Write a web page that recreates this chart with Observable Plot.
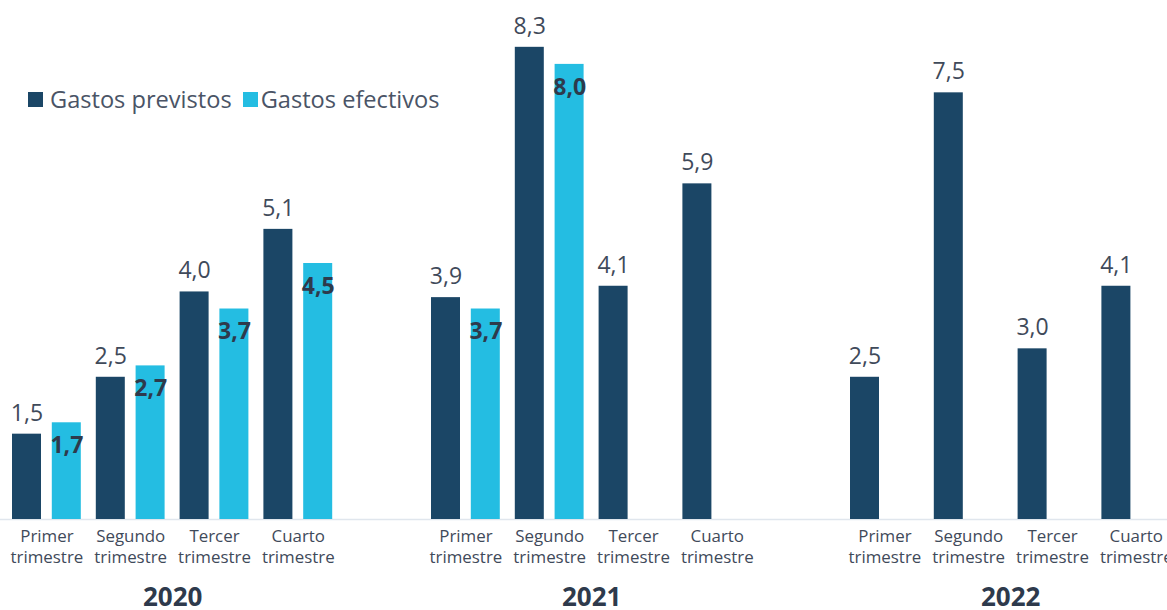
<!DOCTYPE html>
<html>
<head>
<meta charset="utf-8">
<script src="https://cdn.jsdelivr.net/npm/d3@7"></script>
<script src="https://cdn.jsdelivr.net/npm/@observablehq/plot@0.6"></script>
<style>
  html, body { margin: 0; padding: 0; background: #fff; }
  #wrap { position: relative; width: 1167px; height: 610px; overflow: hidden; font-family: "Open Sans", sans-serif; }
  #legend { position: absolute; left: 28px; top: 83px; display: flex; align-items: center; font-size: 23.6px; color: #4a5466; white-space: nowrap; }
  #legend .sw { display: inline-block; width: 15px; height: 15px; }
  #legend .item { display: flex; align-items: center; margin-right: 11px; }
</style>
</head>
<body>
<div id="wrap">
  <div id="chart"></div>
  <div id="legend"></div>
</div>
<script>
const years = ["2020", "2021", "2022"];
const quarters = ["Primer\ntrimestre", "Segundo\ntrimestre", "Tercer\ntrimestre", "Cuarto\ntrimestre"];
const seriesNames = ["Gastos previstos", "Gastos efectivos"];
const colors = ["#1b4666", "#24bde2"];
const previstos = [1.5, 2.5, 4.0, 5.1, 3.9, 8.3, 4.1, 5.9, 2.5, 7.5, 3.0, 4.1];
const efectivos = [1.7, 2.7, 3.7, 4.5, 3.7, 8.0, null, null, null, null, null, null];

// slot keys: 4 quarters per year with one empty slot between years
const slots = [];
years.forEach((y, yi) => {
  if (yi > 0) slots.push({key: "gap" + yi, label: ""});
  quarters.forEach((q, qi) => slots.push({key: y + "-" + qi, label: q}));
});
const rows = [];
years.forEach((y, yi) => quarters.forEach((q, qi) => {
  const i = yi * 4 + qi;
  rows.push({key: y + "-" + qi, prev: previstos[i], efec: efectivos[i]});
}));
const efecRows = rows.filter(d => d.efec != null);

const fmt = v => v.toFixed(1).replace(".", ",");

const chart = Plot.plot({
  width: 1167,
  height: 610,
  marginLeft: 0,
  marginRight: 0,
  marginTop: 7,
  marginBottom: 91,
  style: {fontFamily: "'Open Sans', sans-serif", background: "#fff"},
  x: {domain: slots.map(d => d.key), range: [4.5, 1177.7], padding: 0, round: false, axis: null},
  y: {domain: [0, 9], axis: null},
  marks: [
    Plot.ruleY([0], {stroke: "#e0e6ed", strokeWidth: 1.5}),
    Plot.barY(rows, {x: "key", y: "prev", fill: colors[0], insetLeft: 7.5, insetRight: 47.3}),
    Plot.barY(efecRows, {x: "key", y: "efec", fill: colors[1], insetLeft: 47.3, insetRight: 7.5}),
    Plot.text(rows, {x: "key", y: "prev", text: d => fmt(d.prev), dx: -20, dy: -21, fontSize: 23, fill: "#3f4a5a"}),
    Plot.text(efecRows, {x: "key", y: "efec", text: d => fmt(d.efec), dx: 20, dy: 23, fontSize: 23, fontWeight: "bold", fill: "#2e3a4c"}),
    Plot.text(slots, {x: "key", y: 0, text: "label", lineAnchor: "top", dy: 7, fontSize: 16.9, lineHeight: 1.25, fill: "#3f4a5a"}),
    Plot.text(years, {x: d => d + "-1", y: 0, text: d => d, dx: 42, dy: 78, fontSize: 26, fontWeight: "bold", fill: "#2e3a4c"})
  ]
});
document.getElementById("chart").appendChild(chart);

const legend = document.getElementById("legend");
const gaps = [7, 3];
seriesNames.forEach((n, i) => {
  const item = document.createElement("span");
  item.className = "item";
  item.innerHTML = `<span class="sw" style="background:${colors[i]};margin-right:${gaps[i]}px"></span>${n}`;
  legend.appendChild(item);
});
</script>
</body>
</html>
